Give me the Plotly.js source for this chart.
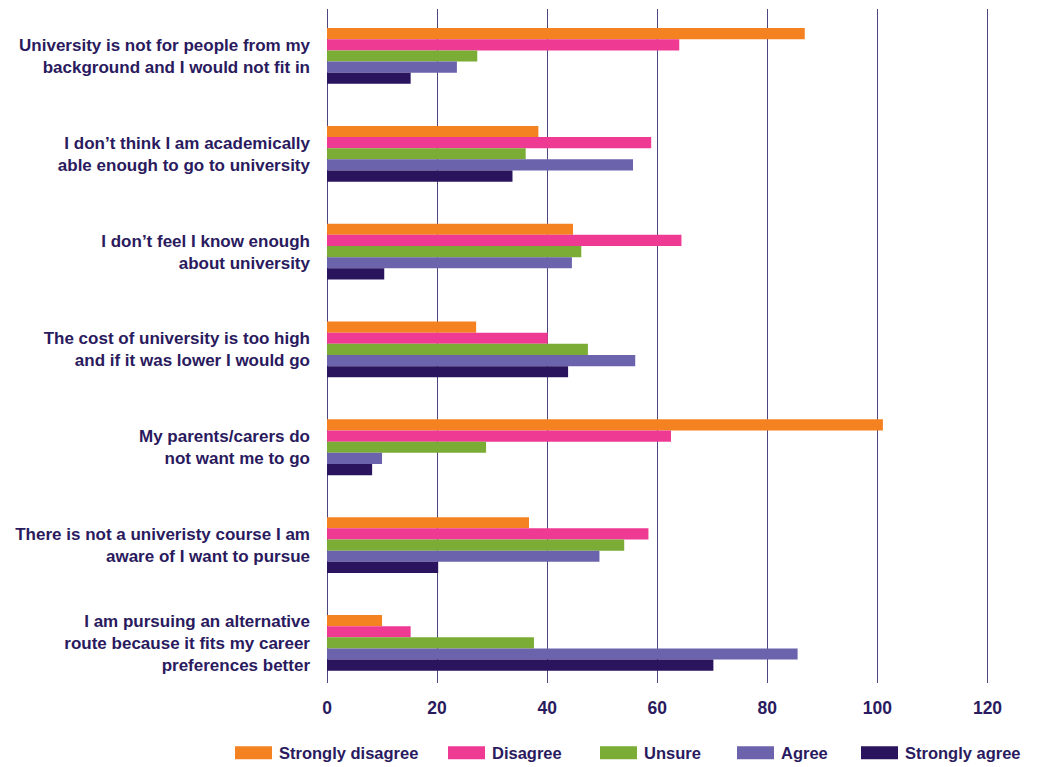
<!DOCTYPE html>
<html>
<head>
<meta charset="utf-8">
<script src="https://cdn.plot.ly/plotly-3.0.1.min.js"></script>
<style>html,body{margin:0;padding:0;background:#fff;}#chart{width:1038px;height:767px;}</style>
</head>
<body>
<div id="chart"></div>
<script>
const categories = [
  "University is not for people from my<br>background and I would not fit in",
  "I don’t think I am academically<br>able enough to go to university",
  "I don’t feel I know enough<br>about university",
  "The cost of university is too high<br>and if it was lower I would go",
  "My parents/carers do<br>not want me to go",
  "There is not a univeristy course I am<br>aware of I want to pursue",
  "I am pursuing an alternative<br>route because it fits my career<br>preferences better"
];
const seriesNames = ["Strongly disagree", "Disagree", "Unsure", "Agree", "Strongly agree"];
const stronglyDisagree = [86.8, 38.4, 44.7, 27.1, 101, 36.7, 10];
const disagree         = [64, 58.9, 64.4, 40.1, 62.5, 58.4, 15.2];
const unsure           = [27.3, 36.1, 46.2, 47.4, 28.9, 54, 37.6];
const agree            = [23.6, 55.6, 44.5, 56, 10, 49.5, 85.5];
const stronglyAgree    = [15.2, 33.7, 10.4, 43.8, 8.2, 20.2, 70.2];
const xTicks = [0, 20, 40, 60, 80, 100, 120];

const seriesValues = [stronglyDisagree, disagree, unsure, agree, stronglyAgree];
const colors = ["#f58220", "#ee3a93", "#7aac36", "#6b63ab", "#2a145e"];
const legendIds = ["legend", "legend2", "legend3", "legend4", "legend5"];
const legendX = [235, 448, 600, 737, 861];

const textColor = "#2a1a5e";
const gridColor = "#50467f";
const fontFam = "'Liberation Sans', Arial, sans-serif";

const traces = seriesNames.map((name, i) => ({
  type: "bar",
  orientation: "h",
  name: name,
  x: seriesValues[i],
  y: categories,
  marker: {color: colors[i], line: {width: 0}},
  legend: legendIds[i],
  hoverinfo: "x+name"
}));

const layout = {
  width: 1038,
  height: 767,
  autosize: false,
  margin: {l: 326.5, r: 45.3, t: 9, b: 84, pad: 0},
  paper_bgcolor: "#ffffff",
  plot_bgcolor: "#ffffff",
  barmode: "group",
  bargap: 0.43,
  bargroupgap: 0,
  font: {family: fontFam, color: textColor, size: 17, weight: 700},
  xaxis: {
    range: [0, 121],
    tickvals: xTicks,
    ticktext: xTicks.map(String),
    showgrid: true,
    gridcolor: gridColor,
    gridwidth: 1.3,
    zeroline: true,
    zerolinecolor: gridColor,
    zerolinewidth: 1.3,
    showline: false,
    ticks: "",
    ticklabelstandoff: 12,
    tickfont: {family: fontFam, size: 17.5, color: textColor, weight: 700},
    fixedrange: true
  },
  yaxis: {
    type: "category",
    categoryorder: "array",
    categoryarray: categories,
    range: [6.41, -0.48],
    showgrid: false,
    zeroline: false,
    showline: false,
    ticks: "",
    ticklabelstandoff: 16,
    tickfont: {family: fontFam, size: 17, color: textColor, weight: 700},
    fixedrange: true
  },
  showlegend: true
};

legendIds.forEach((id, i) => {
  layout[id] = {
    orientation: "h",
    xref: "container",
    yref: "container",
    x: (legendX[i] - 1) / 1038,
    y: (767 - 753) / 767,
    xanchor: "left",
    yanchor: "middle",
    itemwidth: 35,
    bgcolor: "rgba(0,0,0,0)",
    borderwidth: 0,
    font: {family: fontFam, size: 16.5, color: textColor, weight: 700},
    itemclick: false,
    itemdoubleclick: false
  };
});

function widenLegendSymbols(gd) {
  gd.querySelectorAll("g.legendpoints path").forEach(p => {
    p.setAttribute("d", "M-21.5,6.5H15.5V-6.5H-21.5Z");
  });
}

const gd = document.getElementById("chart");
Plotly.newPlot(gd, traces, layout, {displayModeBar: false}).then(() => {
  widenLegendSymbols(gd);
  gd.on("plotly_afterplot", () => widenLegendSymbols(gd));
  setTimeout(() => widenLegendSymbols(gd), 50);
});
</script>
</body>
</html>
